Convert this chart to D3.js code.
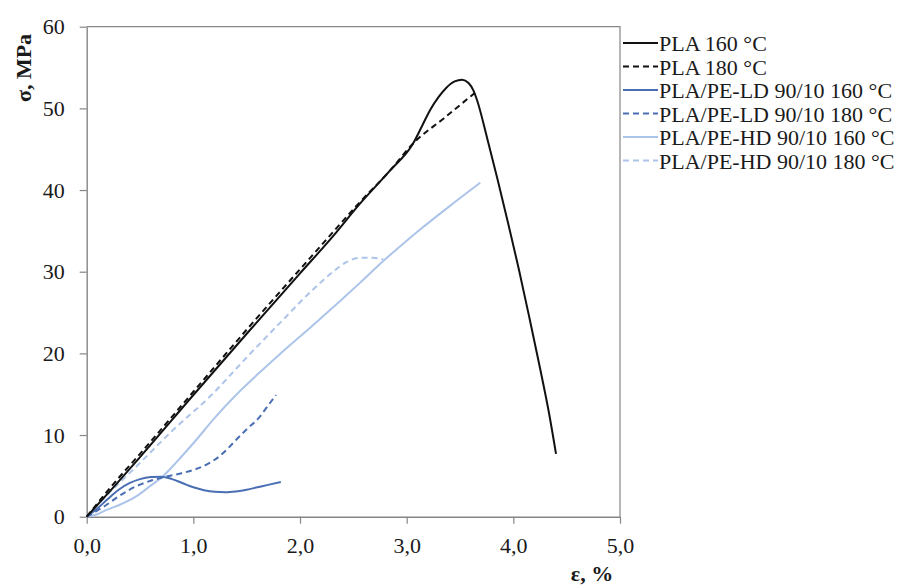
<!DOCTYPE html>
<html>
<head>
<meta charset="utf-8">
<script src="https://cdn.jsdelivr.net/npm/d3@7"></script>
<style>
  html, body { margin: 0; padding: 0; background: #fff; }
  svg { display: block; }
  text { font-family: "Liberation Serif", "Times New Roman", serif; }
</style>
</head>
<body>
<svg id="chart" width="897" height="587"></svg>
<script>
// ---- Data (strain ε in %, stress σ in MPa) ----
const xTicks = [0, 1, 2, 3, 4, 5];
const xTickLabels = ["0,0", "1,0", "2,0", "3,0", "4,0", "5,0"];
const yTicks = [0, 10, 20, 30, 40, 50, 60];
const yTickLabels = ["0", "10", "20", "30", "40", "50", "60"];

const seriesNames = ["PLA 160 °C", "PLA 180 °C", "PLA/PE-LD 90/10 160 °C",
                     "PLA/PE-LD 90/10 180 °C", "PLA/PE-HD 90/10 160 °C", "PLA/PE-HD 90/10 180 °C"];

const pla160 = [[0,0],[0.25,3.6],[0.5,7.3],[1.0,14.9],[1.5,22.4],[2.0,29.8],[2.3,34.2],[2.56,38.3],
  [2.845,42.4],[3.06,45.7],[3.15,48.0],[3.22,49.8],[3.3,51.4],[3.37,52.5],[3.45,53.3],[3.52,53.5],
  [3.58,53.1],[3.625,52.2],[3.66,51.0],[3.75,46.6],[3.85,41.4],[3.95,36.0],[4.05,30.4],[4.15,24.4],
  [4.25,18.2],[4.33,13.0],[4.40,7.7]];
const pla180 = [[0,0],[0.25,4.0],[0.5,7.7],[1.0,15.3],[1.5,22.9],[2.0,30.3],[2.34,35.3],[2.56,38.5],
  [2.845,42.4],[3.06,45.7],[3.35,48.8],[3.64,51.9]];
const ld160 = [[0,0],[0.1,1.0],[0.2,2.2],[0.3,3.3],[0.4,4.1],[0.5,4.6],[0.6,4.85],[0.7,4.9],[0.8,4.6],
  [0.9,4.1],[1.0,3.6],[1.1,3.25],[1.2,3.05],[1.3,3.0],[1.4,3.1],[1.5,3.3],[1.6,3.6],[1.7,3.9],[1.82,4.25]];
const ld180 = [[0,0],[0.18,1.4],[0.3,2.5],[0.46,3.7],[0.6,4.4],[0.74,4.9],[0.88,5.3],[1.02,5.8],
  [1.14,6.5],[1.24,7.35],[1.32,8.3],[1.40,9.4],[1.5,10.7],[1.62,12.2],[1.70,13.6],[1.775,14.9]];
const hd160 = [[0,0],[0.1,0.3],[0.18,0.8],[0.3,1.4],[0.46,2.45],[0.6,3.8],[0.71,4.9],[0.85,6.8],
  [1.02,9.3],[1.2,12.1],[1.40,14.9],[1.6,17.4],[1.81,19.9],[2.1,23.2],[2.4,26.7],[2.56,28.6],
  [2.78,31.3],[3.0,33.8],[3.12,35.1],[3.4,38.0],[3.69,40.9]];
const hd180 = [[0,0],[0.18,2.5],[0.5,6.6],[0.8,10.5],[1.17,14.9],[1.5,19.5],[1.81,23.7],[2.12,27.8],
  [2.31,30.0],[2.44,31.2],[2.56,31.7],[2.68,31.7],[2.78,31.5]];

const seriesData = [pla160, pla180, ld160, ld180, hd160, hd180];
const seriesColors = ["#111111", "#111111", "#4a6eb3", "#4a6eb3", "#adc4ea", "#adc4ea"];
const seriesDashed = [false, true, false, true, false, true];

// ---- Layout ----
const svg = d3.select("#chart");
const x = d3.scaleLinear().domain([0, 5]).range([86.7, 620]);
const y = d3.scaleLinear().domain([0, 60]).range([516.7, 26.7]);
const axisColor = "#868686";

// frame (top and right)
svg.append("path")
  .attr("d", `M${x(0)},${y(60)}H${x(5)}V${y(0)}`)
  .attr("fill", "none").attr("stroke", axisColor).attr("stroke-width", 1.2);

// axes
const gx = svg.append("g").attr("transform", `translate(0,${y(0)})`)
  .call(d3.axisBottom(x).tickValues(xTicks).tickFormat((d, i) => xTickLabels[i])
    .tickSizeOuter(0).tickSizeInner(7).tickPadding(13.5));
const gy = svg.append("g").attr("transform", `translate(${x(0)},0)`)
  .call(d3.axisLeft(y).tickValues(yTicks).tickFormat((d, i) => yTickLabels[i])
    .tickSizeOuter(0).tickSizeInner(7).tickPadding(15));
[gx, gy].forEach(g => {
  g.select(".domain").attr("stroke", axisColor).attr("stroke-width", 1.4);
  g.selectAll(".tick line").attr("stroke", axisColor).attr("stroke-width", 1.2);
  g.selectAll(".tick text").attr("font-family", "Liberation Serif").attr("font-size", 22).attr("fill", "#1a1a1a");
});

// axis titles
svg.append("text")
  .attr("transform", `translate(31,68) rotate(-90)`)
  .attr("text-anchor", "middle")
  .attr("font-size", 22).attr("font-weight", "bold").attr("fill", "#1a1a1a")
  .text("σ, MPa");
svg.append("text")
  .attr("x", 592).attr("y", 581)
  .attr("text-anchor", "middle")
  .attr("font-size", 22).attr("font-weight", "bold").attr("fill", "#1a1a1a")
  .text("ε, %");

// curves
const line = d3.line().x(d => x(d[0])).y(d => y(d[1])).curve(d3.curveMonotoneX);
const drawOrder = [5, 4, 3, 2, 1, 0];
drawOrder.forEach(i => {
  svg.append("path")
    .datum(seriesData[i])
    .attr("d", line)
    .attr("fill", "none")
    .attr("stroke", seriesColors[i])
    .attr("stroke-width", 2)
    .attr("stroke-dasharray", seriesDashed[i] ? "6,4" : null)
    .attr("stroke-linejoin", "round");
});

// legend
const legendY0 = 44, legendStep = 23.5;
seriesNames.forEach((name, i) => {
  const cy = legendY0 + i * legendStep;
  svg.append("line")
    .attr("x1", 623).attr("x2", 658).attr("y1", cy - 1).attr("y2", cy - 1)
    .attr("stroke", seriesColors[i]).attr("stroke-width", 2)
    .attr("stroke-dasharray", seriesDashed[i] ? "6,4" : null);
  svg.append("text")
    .attr("x", 659).attr("y", cy + 7)
    .attr("font-size", 22).attr("fill", "#1a1a1a")
    .text(name);
});
</script>
</body>
</html>
